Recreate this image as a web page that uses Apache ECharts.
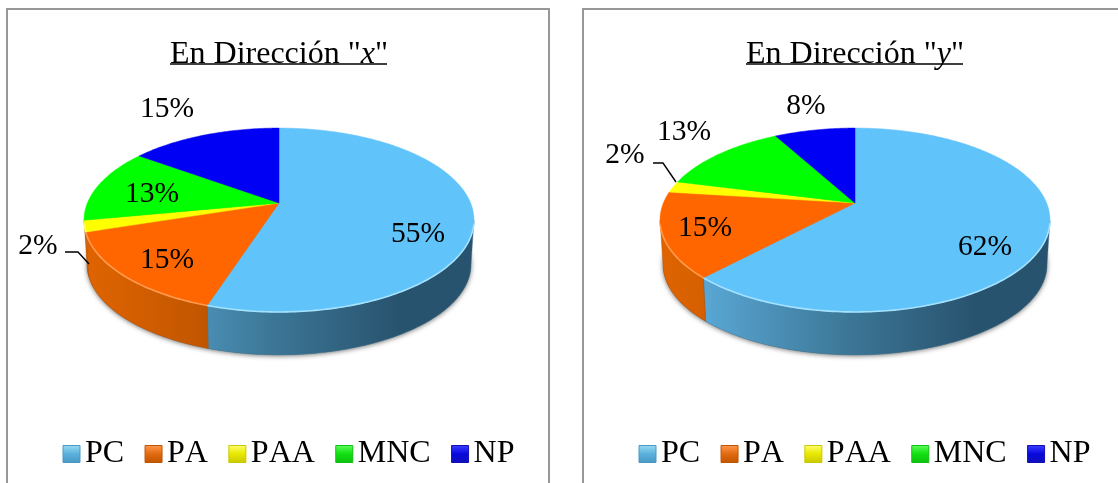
<!DOCTYPE html>
<html>
<head>
<meta charset="utf-8">
<script src="https://cdn.jsdelivr.net/npm/echarts@6/dist/echarts.min.js"></script>
<style>html,body{margin:0;padding:0;background:#fff}#c{width:1118px;height:483px}</style>
</head>
<body>
<div id="c"></div>
<script>
// Share of each category per direction, in percent
const categories = ['PC', 'PA', 'PAA', 'MNC', 'NP'];
const valuesX = [55, 15, 2, 13, 15];
const valuesY = [62, 15, 2, 13, 8];

const topColors = ['#60C3FA', '#FF6600', '#FFFF00', '#00FF00', '#0000F5'];
const edgeColors = ['#A5E2FF', '#FF9B50', '#FFFF80', '#80FF80', '#5050FF'];
const orangeWall = ['#E06400', '#B04E00', '#8A3E00'];
const wallStops = [
  ['#62B6E8', '#3C7696', '#28536E'],
  orangeWall,
  orangeWall,
  ['#00C800', '#00A000', '#008000'],
  ['#0000C0', '#0000A0', '#000080']
];
const swatchStops = [
  ['#9ADCF5', '#5AB0DC', '#4A98C4'],
  ['#FF9A50', '#E06A10', '#C05500'],
  ['#FFFF70', '#E8E800', '#C8C800'],
  ['#60FF60', '#10E010', '#10C010'],
  ['#4040FF', '#0808E0', '#1010B8']
];

// Perspective disc: a unit circle projected around its apex
const APEX_Y = 203, A = 191.6, B = 88.8, K = 0.185;
const BASE_SCALE = 0.985, BASE_DY = 44.6;
// Only this part of the rim faces the viewer
const FRONT_FROM = 0.28, FRONT_TO = 0.72;
const LABEL_FONT_SIZE = 29.5, LABEL_SHIFT_Y = 2.5;
const LEGEND_FONT_SIZE = 32;

function project(cx, turn, scale, dy) {
  const t = turn * Math.PI * 2;
  const u = Math.sin(t), v = -Math.cos(t), w = 1 - K * v;
  return [cx + A * u / w * scale, APEX_Y + B * v / w * scale + dy];
}
function arc(cx, from, to, scale, dy) {
  const n = Math.max(2, Math.ceil((to - from) * 360));
  const pts = [];
  for (let i = 0; i <= n; i++) pts.push(project(cx, from + (to - from) * i / n, scale, dy));
  return pts;
}

const panels = [
  {
    cx: 279, values: valuesX, axis: 'x',
    labels: [[418, 232], [167, 258], [38, 244], [152, 192], [167, 107]],
    leader: [2, [[65, 252], [78, 252], [89, 264]]],
    frame: [7, 9, 542, 490], titleX: 274, underlineX: 278.5, legendX: 57.5
  },
  {
    cx: 855, values: valuesY, axis: 'y',
    labels: [[985, 245], [705, 226], [625, 153], [684, 130], [806, 104]],
    leader: [2, [[653, 163], [663, 163], [676, 182]]],
    frame: [583, 9, 560, 490], titleX: 850, underlineX: 854.5, legendX: 633.5
  }
];

const series = [];
panels.forEach(function (panel) {
  // Soft contact shadow beneath the disc
  series.push({
    type: 'custom', coordinateSystem: 'none', silent: true, name: 'base' + panel.axis,
    data: [[1]],
    renderItem: function () {
      return {
        type: 'polygon', z2: 0,
        shape: { points: arc(panel.cx, 0, 1, BASE_SCALE, BASE_DY) },
        style: { fill: '#777', shadowBlur: 5, shadowColor: 'rgba(0,0,0,0.55)', shadowOffsetY: 1 }
      };
    }
  });
  let cum = 0;
  categories.forEach(function (name, idx) {
    const start = cum;
    cum += panel.values[idx];
    series.push({
      type: 'custom', coordinateSystem: 'none', silent: true, name: name,
      itemStyle: { color: topColors[idx] },
      data: [[panel.values[idx], start]],
      renderItem: function (params, api) {
        const value = api.value(0);
        const from = api.value(1) / 100, to = from + value / 100;
        const topArc = arc(panel.cx, from, to, 1, 0);
        const stops = wallStops[idx];
        const children = [
          {
            type: 'polygon', z2: 2,
            shape: { points: [[panel.cx, APEX_Y]].concat(topArc) },
            style: { fill: topColors[idx], stroke: topColors[idx], lineWidth: 0.5 }
          }
        ];
        // Side wall, limited to the part of the slice on the front rim
        const wallFrom = Math.max(from, FRONT_FROM), wallTo = Math.min(to, FRONT_TO);
        if (wallTo > wallFrom) {
          const wallTop = arc(panel.cx, wallFrom, wallTo, 1, 0);
          const wallBase = arc(panel.cx, wallFrom, wallTo, BASE_SCALE, BASE_DY).reverse();
          children.push({
            type: 'polygon', z2: 1,
            shape: { points: wallTop.concat(wallBase) },
            style: {
              fill: new echarts.graphic.LinearGradient(panel.cx - 195, 0, panel.cx + 120, 0, [
                { offset: 0, color: stops[0] },
                { offset: 0.6, color: stops[1] },
                { offset: 1, color: stops[2] }
              ], true),
              stroke: stops[1], lineWidth: 0.4
            }
          });
        }
        // Bevel highlight along the front rim
        const rim = topArc.filter(function (p) { return p[1] > APEX_Y + 20; });
        if (rim.length > 1) {
          children.push({
            type: 'polyline', z2: 3,
            shape: { points: rim },
            style: { fill: null, stroke: edgeColors[idx], lineWidth: 1.6 }
          });
        }
        const at = panel.labels[idx];
        children.push({
          type: 'text', z2: 6, x: at[0], y: at[1] + LABEL_SHIFT_Y,
          style: {
            text: value + '%', fill: '#000', align: 'center', verticalAlign: 'middle',
            font: LABEL_FONT_SIZE + 'px "Liberation Serif"'
          }
        });
        if (panel.leader[0] === idx) {
          children.push({
            type: 'polyline', z2: 5,
            shape: { points: panel.leader[1] },
            style: { fill: null, stroke: '#000', lineWidth: 1.4 }
          });
        }
        return { type: 'group', children: children };
      }
    });
  });
});

const legendItems = categories.map(function (name, idx) {
  return {
    name: name,
    itemStyle: {
      color: new echarts.graphic.LinearGradient(0, 0, 0, 1, [
        { offset: 0, color: swatchStops[idx][0] },
        { offset: 0.5, color: swatchStops[idx][1] },
        { offset: 1, color: swatchStops[idx][2] }
      ]),
      borderColor: swatchStops[idx][2], borderWidth: 1
    }
  };
});

const option = {
  animation: false,
  backgroundColor: '#fff',
  title: panels.map(function (p) {
    return {
      text: 'En Dirección "{i|' + p.axis + '}"',
      left: p.titleX, top: 34, textAlign: 'center',
      textStyle: {
        fontFamily: 'Liberation Serif', fontSize: 32, fontWeight: 'normal', color: '#000',
        rich: { i: { fontFamily: 'Liberation Serif', fontSize: 32, fontStyle: 'italic', color: '#000' } }
      }
    };
  }),
  legend: panels.map(function (p) {
    return {
      left: p.legendX, top: 433, orient: 'horizontal', selectedMode: false,
      icon: 'rect', itemWidth: 17, itemHeight: 17, itemGap: 20.4,
      data: legendItems,
      // Letters set one by one so pairs such as PA stay unkerned
      formatter: function (name) {
        return name.split('').map(function (c) { return '{g|' + c + '}'; }).join('');
      },
      textStyle: {
        fontFamily: 'Liberation Serif', fontSize: LEGEND_FONT_SIZE, color: '#000',
        rich: { g: { fontFamily: 'Liberation Serif', fontSize: LEGEND_FONT_SIZE, color: '#000' } }
      }
    };
  }),
  graphic: panels.map(function (p) {
    return {
      type: 'rect', silent: true, z: -1,
      shape: { x: p.frame[0], y: p.frame[1], width: p.frame[2], height: p.frame[3] },
      style: { fill: '#fff', stroke: '#979797', lineWidth: 2 }
    };
  }).concat(panels.map(function (p) {
    return {
      type: 'line', silent: true, z: 10,
      shape: { x1: p.underlineX - 108.5, y1: 64, x2: p.underlineX + 108.5, y2: 64 },
      style: { stroke: '#000', lineWidth: 1.5 }
    };
  })),
  series: series
};

echarts.init(document.getElementById('c'), null, { renderer: 'canvas' }).setOption(option);
</script>
</body>
</html>
